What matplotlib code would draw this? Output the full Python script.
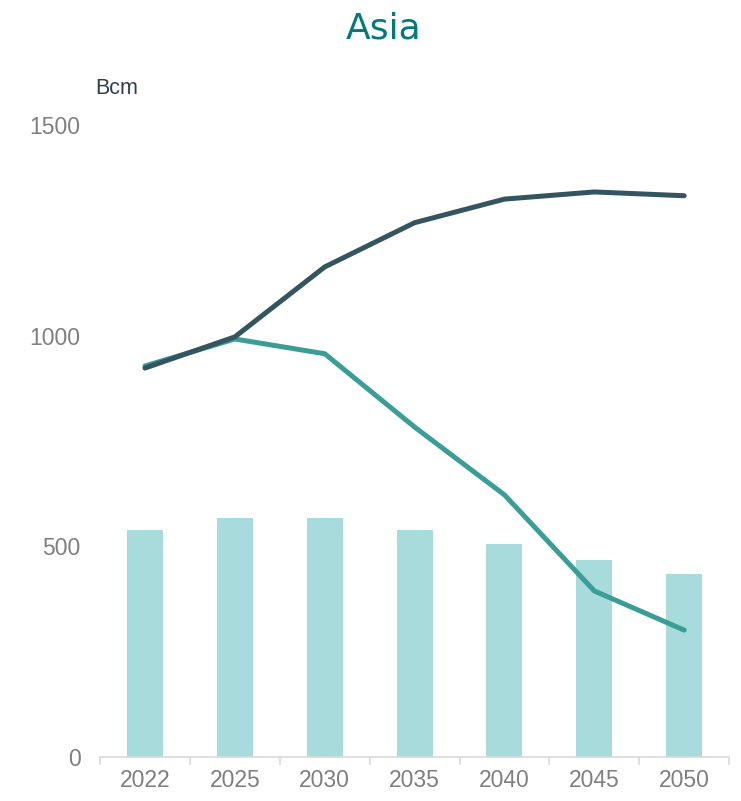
import matplotlib
matplotlib.use("Agg")
import matplotlib.pyplot as plt
import numpy as np

years = ["2022", "2025", "2030", "2035", "2040", "2045", "2050"]
bars = [539, 567, 567, 539, 506, 468, 434]
dark_line = [923, 997, 1163, 1268, 1324, 1341, 1332]
teal_line = [928, 992, 957, 783, 622, 394, 301]

plt.rcParams["font.family"] = ["Liberation Sans", "DejaVu Sans"]

fig = plt.figure(figsize=(7.41, 8.01), dpi=100)
ax = fig.add_axes([0.135, 0.055, 0.849, 0.789])

x = np.arange(len(years))
ax.bar(x, bars, width=0.4, color="#A8DCDC", zorder=1)
ax.plot(x, teal_line, color="#3A9E96", lw=3.6, solid_capstyle="round", zorder=2)
ax.plot(x, dark_line, color="#34555F", lw=3.6, solid_capstyle="round", zorder=3)

ax.set_xlim(-0.5, len(years) - 0.5)
ax.set_ylim(0, 1500)
ax.set_yticks([0, 500, 1000, 1500])
ax.set_xticks(x)
ax.set_xticklabels(years)
ax.set_xticks(np.arange(-0.5, len(years)), minor=True)

for s in ["top", "right", "left"]:
    ax.spines[s].set_visible(False)
ax.spines["bottom"].set_color("#D9D9D9")
ax.spines["bottom"].set_linewidth(1.2)
ax.tick_params(axis="y", length=0, labelsize=16.5, labelcolor="#7F7F7F", pad=14)
ax.tick_params(axis="x", which="major", length=0, labelsize=16.5, labelcolor="#7F7F7F", pad=9)
ax.tick_params(axis="x", which="minor", length=6, color="#D9D9D9", width=1.2)

fig.text(0.518, 0.965, "Asia", ha="center", va="center", fontsize=26,
         color="#007A7A", family=["DejaVu Sans"])
fig.text(0.128, 0.89, "Bcm", ha="left", va="center", fontsize=15.5, color="#2F3E4E")

fig.savefig("out.png", dpi=100)
